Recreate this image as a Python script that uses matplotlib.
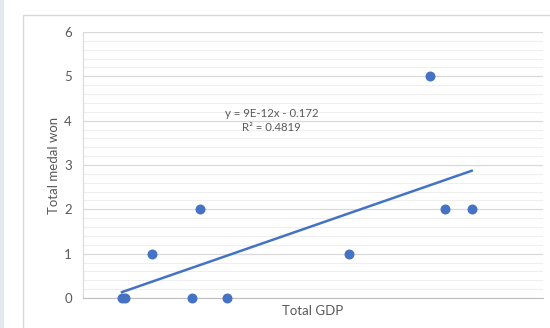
import numpy as np
import matplotlib.pyplot as plt
from matplotlib.patches import Rectangle
from matplotlib.ticker import MultipleLocator, NullLocator

plt.rcParams['font.family'] = ['Lato', 'DejaVu Sans']

# GDP (USD) and medals per country
gdp = [3.39e10, 3.65e10, 6.0e10, 9.48e10, 1.02e11, 1.25e11, 2.31e11, 3.02e11, 3.15e11, 3.38e11]
medals = [0, 0, 1, 0, 2, 0, 1, 5, 2, 2]
slope = 9e-12
intercept = -0.172
r2 = 0.4819

blue = '#4472C4'
grey = '#595959'

fig = plt.figure(figsize=(5.5, 3.28), dpi=100)
# chart area frame
fig.patches.append(Rectangle((23/550, -0.05), 1, 1 - 15/328 + 0.05, transform=fig.transFigure,
                             fill=False, edgecolor='#d9d9d9', linewidth=1))
fig.patches.append(Rectangle((0, 0), 4/550, 1, transform=fig.transFigure,
                             facecolor='#e4e8ee', edgecolor='none'))

ax = fig.add_axes([83/550, 1 - 298/328, 460/550, 266/328])
ax.set_xlim(0, 4e11)
ax.set_ylim(0, 6)

ax.yaxis.set_major_locator(MultipleLocator(1))
ax.yaxis.set_minor_locator(MultipleLocator(0.2))
ax.xaxis.set_major_locator(NullLocator())
ax.grid(axis='y', which='major', color='#d9d9d9', linewidth=0.9)
ax.grid(axis='y', which='minor', color='#eeeeee', linewidth=0.8)
ax.set_axisbelow(True)

for s in ['top', 'right']:
    ax.spines[s].set_visible(False)
ax.spines['left'].set_color('#d9d9d9')
ax.spines['bottom'].set_color('#bfbfbf')
ax.tick_params(axis='y', which='both', length=0, labelsize=9.5, labelcolor=grey, pad=8)

# linear trendline over the data range
xl = np.array([min(gdp), max(gdp)])
ax.plot(xl, slope * xl + intercept, color=blue, linewidth=1.8, zorder=2)
ax.scatter(gdp, medals, s=38, color=blue, zorder=3, clip_on=False)

ax.text(1.64e11, 4.0, f'y = 9E-12x - 0.172\nR² = {r2}', ha='center', va='center',
        fontsize=8.2, color=grey, linespacing=1.3)

ax.set_xlabel('Total GDP', fontsize=9.5, color=grey, labelpad=5)
ax.set_ylabel('Total medal won', fontsize=9.5, color=grey, labelpad=3)

fig.savefig('out.png', dpi=100)
